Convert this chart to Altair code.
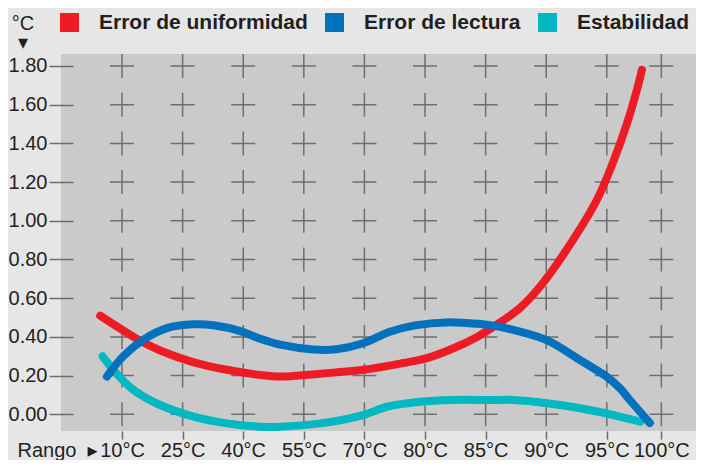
import json
import pandas as pd
import altair as alt

# ---- data ----
series = ["Error de uniformidad", "Error de lectura", "Estabilidad"]
colors = ["#ed1c24", "#0071bc", "#00b8c2"]

x_ticks = [0, 1, 2, 3, 4, 5, 6, 7, 8, 8.9]
x_labels = ["10°C", "25°C", "40°C", "55°C", "70°C", "80°C", "85°C", "90°C", "95°C", "100°C"]
y_ticks = [0.0, 0.2, 0.4, 0.6, 0.8, 1.0, 1.2, 1.4, 1.6, 1.8]

unif_pos = [-0.36, 0.30, 0.63, 1.17, 1.73, 2.28, 2.61, 3.27, 3.98, 4.64, 5.03, 5.46, 5.86, 6.07,
            6.57, 6.90, 7.44, 7.84, 8.10, 8.33, 8.50, 8.58]
unif_val = [0.51, 0.38, 0.33, 0.27, 0.23, 0.203, 0.195, 0.21, 0.23, 0.265, 0.29, 0.34, 0.40, 0.44,
            0.55, 0.66, 0.90, 1.11, 1.30, 1.50, 1.68, 1.78]

lect_pos = [-0.25, 0.02, 0.35, 0.74, 1.18, 1.51, 1.95, 2.28, 2.61, 3.16, 3.54, 3.98, 4.42, 4.86,
            5.36, 5.74, 6.07, 6.46, 7.01, 7.56, 7.78, 8.00, 8.22, 8.38, 8.71]
lect_val = [0.195, 0.30, 0.385, 0.445, 0.465, 0.46, 0.43, 0.39, 0.36, 0.335, 0.336, 0.367, 0.427,
            0.461, 0.475, 0.47, 0.461, 0.436, 0.383, 0.28, 0.238, 0.194, 0.134, 0.074, -0.045]

est_pos = [-0.32, -0.09, 0.19, 0.63, 1.18, 1.73, 2.28, 2.61, 3.27, 3.98, 4.37, 4.92, 5.47, 6.07,
           6.46, 7.01, 7.56, 8.11, 8.55]
est_val = [0.30, 0.21, 0.126, 0.048, -0.012, -0.047, -0.064, -0.064, -0.047, -0.004, 0.039, 0.065,
           0.074, 0.074, 0.074, 0.057, 0.031, -0.004, -0.038]

# ---- tables ----
def frame(name, xs, ys):
    return pd.DataFrame({"serie": name, "pos": xs, "valor": ys})

df_unif = frame(series[0], unif_pos, unif_val)
df_lect = frame(series[1], lect_pos, lect_val)
df_est = frame(series[2], est_pos, est_val)

grid = pd.DataFrame([{"pos": x, "valor": y} for x in x_ticks for y in y_ticks])

FONT = "Liberation Sans, Arial, DejaVu Sans"
TXT = "#231f20"
TICK = "#6e6e6e"

label_expr = f"{json.dumps(x_labels, ensure_ascii=False)}[indexof({json.dumps(x_ticks)}, datum.value)]"

x_scale = alt.Scale(domain=[-1.007, 9.472], nice=False, zero=False)
y_scale = alt.Scale(domain=[-0.0863, 1.862], nice=False, zero=False)

x_enc = alt.X(
    "pos:Q", scale=x_scale,
    axis=alt.Axis(
        values=x_ticks, labelExpr=label_expr, grid=False, domain=False,
        tickSize=8, tickColor=TICK, tickWidth=1.5,
        labelBaseline="alphabetic", labelPadding=17,
        labelFont=FONT, labelFontSize=20, labelColor=TXT, labelFlush=False,
        labelOverlap=False,
        title="Rango\u00a0\u00a0▸", titleFont=FONT, titleFontSize=20, titleFontWeight="normal",
        titleColor=TXT, titleX=-44, titleY=25, titleAnchor="start", titleAlign="left",
        titleBaseline="alphabetic",
    ),
)
y_enc = alt.Y(
    "valor:Q", scale=y_scale,
    axis=alt.Axis(
        values=y_ticks, format=".2f", grid=False, domain=False, offset=-12,
        tickSize=24, tickColor=TICK, tickWidth=1.5, labelPadding=2,
        labelFont=FONT, labelFontSize=20, labelColor=TXT, labelFlush=False,
        labelOverlap=False,
        title=["°C", "▾"], titleFont=FONT, titleFontSize=20, titleFontWeight="normal",
        titleColor=TXT, titleAngle=0, titleX=-50.5, titleY=-25, titleAlign="center",
        titleBaseline="alphabetic", titleLineHeight=19,
    ),
)

color_enc = alt.Color(
    "serie:N",
    scale=alt.Scale(domain=series, range=colors),
    legend=alt.Legend(
        orient="none", legendX=-2, legendY=-42, direction="horizontal", title=None,
        symbolType="square", symbolSize=81, symbolStrokeWidth=10, symbolOpacity=1,
        labelFont=FONT, labelFontSize=21, labelFontWeight="bold", labelColor=TXT,
        labelOffset=19, columnPadding=2, padding=0, labelLimit=400,
    ),
)

crosses = alt.Chart(grid).mark_point(
    shape="M-1,0H1M0,-1V1", size=576, filled=False, stroke=TICK, strokeWidth=1.5, opacity=1
).encode(x=x_enc, y=y_enc)

def line(df):
    return alt.Chart(df).mark_line(
        strokeWidth=8, strokeCap="round", strokeJoin="round", interpolate="catmull-rom"
    ).encode(x=x_enc, y=y_enc, color=color_enc, order="pos:Q")

chart = alt.layer(crosses, line(df_est), line(df_unif), line(df_lect)).properties(
    width=635, height=377,
    autosize=alt.AutoSizeParams(type="none"),
    padding={"left": 53, "top": 46, "right": 0, "bottom": 29},
    background="#e6e6e6",
).configure_view(fill="#cacaca", stroke=None)

chart.save("out.html", embed_options={"renderer": "svg", "actions": False})
